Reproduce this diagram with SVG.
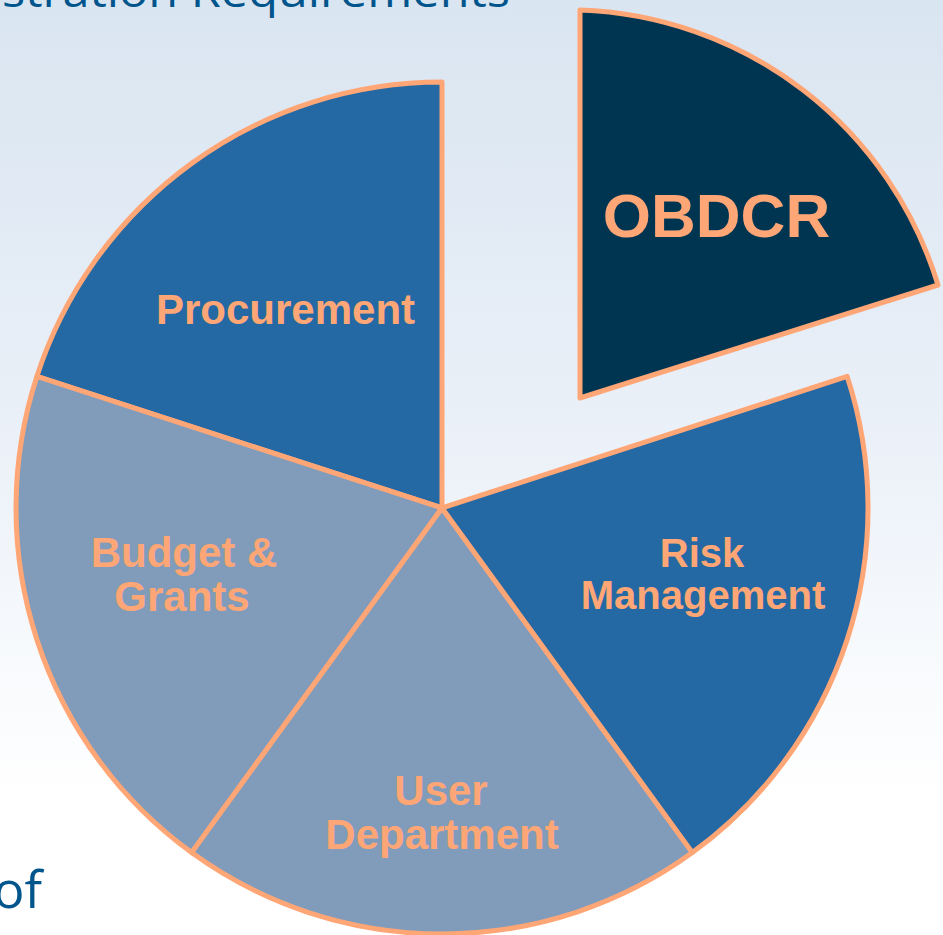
<svg xmlns="http://www.w3.org/2000/svg" width="943" height="935" viewBox="0 0 943 935">
<defs>
<linearGradient id="bg" x1="0" y1="0" x2="0" y2="1">
<stop offset="0" stop-color="#d9e5f1"/>
<stop offset="0.45" stop-color="#eaf0f8"/>
<stop offset="0.85" stop-color="#ffffff"/>
</linearGradient>
</defs>
<style>
.slice{stroke:#ffa677;stroke-width:5;stroke-linejoin:round}
.dark{fill:#2469a3}
.light{fill:#819bba}
.navy{fill:#003552}
.lbl{font-family:"Liberation Sans",Arial,sans-serif;font-weight:bold;fill:#ffa677;text-anchor:middle}
.title{font-family:"Open Sans","DejaVu Sans",sans-serif;fill:#00558c}
</style>
<rect x="0" y="0" width="943" height="935" fill="url(#bg)"/>
<text class="title" x="2" y="7" font-size="44" textLength="508" lengthAdjust="spacingAndGlyphs">stration Requirements</text>
<text class="title" x="42" y="908" font-size="52" text-anchor="end">of</text>
<g id="procurement">
<path class="slice dark" d="M442,508 L442,82 A426,426 0 0 0 36.85,376.4 Z"/>
<text class="lbl" x="285.5" y="324" font-size="42">Procurement</text>
</g>
<g id="budget-grants">
<path class="slice light" d="M442,508 L36.85,376.4 A426,426 0 0 0 191.6,852.6 Z"/>
<text class="lbl" font-size="42"><tspan x="184" y="567">Budget &amp;</tspan><tspan x="182" y="611">Grants</tspan></text>
</g>
<g id="user-department">
<path class="slice light" d="M442,508 L191.6,852.6 A426,426 0 0 0 692.4,852.6 Z"/>
<text class="lbl" font-size="42"><tspan x="441" y="805">User</tspan><tspan x="442" y="849">Department</tspan></text>
</g>
<g id="risk-management">
<path class="slice dark" d="M442,508 L692.4,852.6 A426,426 0 0 0 847.2,376.4 Z"/>
<text class="lbl" font-size="40"><tspan x="702" y="567">Risk</tspan><tspan x="703" y="609">Management</tspan></text>
</g>
<g id="obdcr">
<path class="slice navy" d="M580,398 L580,10 A388,388 0 0 1 938,285 Z"/>
<text class="lbl" x="716.5" y="237" font-size="62">OBDCR</text>
</g>
<g id="connectors"/>
</svg>
